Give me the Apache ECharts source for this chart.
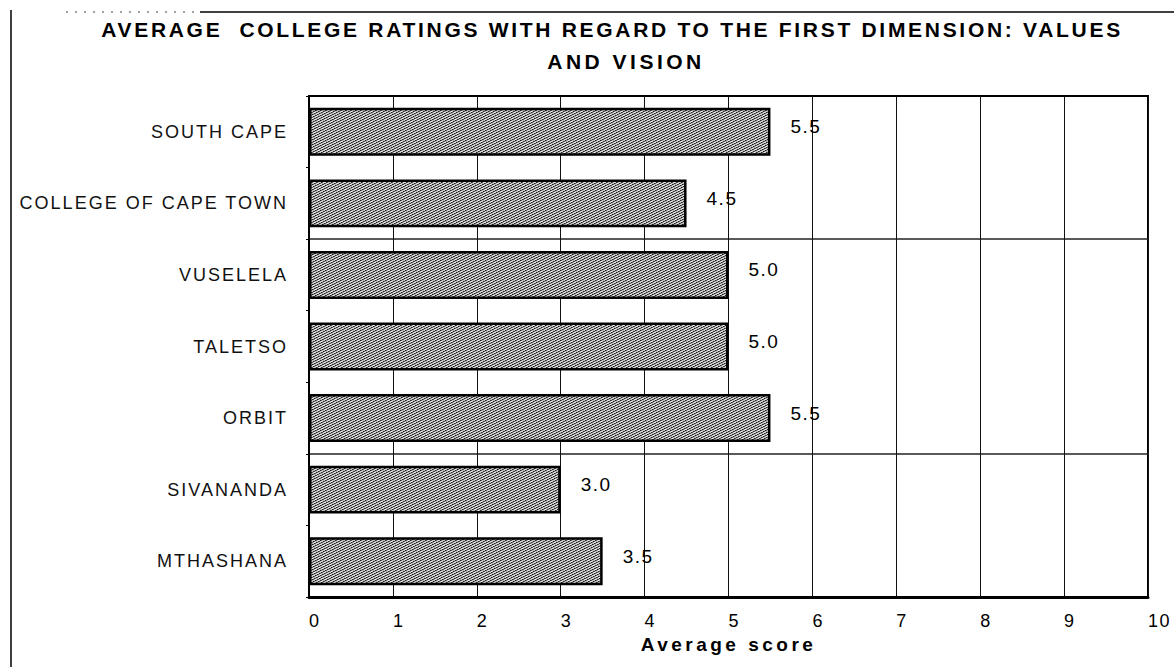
<!DOCTYPE html>
<html>
<head>
<meta charset="utf-8">
<script src="https://cdn.jsdelivr.net/npm/echarts@6/dist/echarts.min.js"></script>
<style>
  html, body { margin: 0; padding: 0; background: #fff; }
  #chart { width: 1174px; height: 667px; }
  #chart text { letter-spacing: 2px; white-space: pre; }
</style>
</head>
<body>
<div id="chart"></div>
<script>
// Colleges, top to bottom, and their average rating for "Values and vision"
const colleges = ['SOUTH CAPE', 'COLLEGE OF CAPE TOWN', 'VUSELELA', 'TALETSO', 'ORBIT', 'SIVANANDA', 'MTHASHANA'];
const scores = [5.5, 4.5, 5.0, 5.0, 5.5, 3.0, 3.5];
const titleLines = ['AVERAGE  COLLEGE RATINGS WITH REGARD TO THE FIRST DIMENSION: VALUES', 'AND VISION'];
const axisTitle = 'Average score';
// category boundaries that carry a horizontal rule
const ruledBoundaries = [2, 5];

const FONT = '"Liberation Sans", Arial, Helvetica, sans-serif';

// small printed-halftone tile used as the bar fill
const tile = document.createElement('canvas');
tile.width = 10; tile.height = 10;
const g = tile.getContext('2d');
g.fillStyle = '#c0c0c0';
g.fillRect(0, 0, 10, 10);
for (let y = 0; y < 10; y++) {
  for (let x = 0; x < 10; x++) {
    const k = (x + 2 * y) % 5;
    if (k === 0) { g.fillStyle = '#222'; g.fillRect(x, y, 1, 1); }
    else if (k === 1) { g.fillStyle = '#585858'; g.fillRect(x, y, 1, 1); }
    else if (k === 3 && (x + y) % 2 === 0) { g.fillStyle = '#f2f2f2'; g.fillRect(x, y, 1, 1); }
  }
}

const chart = echarts.init(document.getElementById('chart'), null, { renderer: 'svg' });

chart.setOption({
  animation: false,
  backgroundColor: '#fff',
  textStyle: { fontFamily: FONT },
  grid: {
    left: 309, right: 26, top: 96, bottom: 70,
    show: true, borderColor: '#000', borderWidth: 2
  },
  xAxis: {
    type: 'value', min: 0, max: 10, interval: 1,
    name: axisTitle, nameLocation: 'middle', nameGap: 37,
    nameTextStyle: { fontSize: 19, fontWeight: 'bold', color: '#000', fontFamily: FONT },
    axisLine: { show: true, lineStyle: { color: '#000', width: 3 } },
    axisTick: { show: false },
    axisLabel: { fontSize: 18, color: '#000', align: 'left', margin: 15, fontFamily: FONT },
    splitLine: { show: true, lineStyle: { color: '#111', width: 1 } }
  },
  yAxis: {
    type: 'category', data: colleges, inverse: true,
    axisLine: { show: true, lineStyle: { color: '#000', width: 2 } },
    axisTick: { show: true, length: 3, lineStyle: { color: '#000', width: 1 } },
    axisLabel: { fontSize: 18, color: '#111', margin: 21, fontFamily: FONT },
    splitLine: {
      show: true,
      interval: (idx) => ruledBoundaries.indexOf(idx) >= 0,
      lineStyle: { color: '#222', width: 1.5 }
    }
  },
  series: [{
    type: 'bar',
    data: scores,
    silent: true,
    barCategoryGap: '33%',
    itemStyle: {
      color: { image: tile, repeat: 'repeat' },
      borderColor: '#000', borderWidth: 2.5
    },
    label: {
      show: true, position: 'right', distance: 20, offset: [0, -5],
      fontSize: 19, color: '#000', fontFamily: FONT,
      formatter: (p) => p.value.toFixed(1)
    }
  }],
  graphic: [
    { type: 'line', silent: true, shape: { x1: 200, y1: 12, x2: 1174, y2: 12 }, style: { stroke: '#000', lineWidth: 1.5 } },
    { type: 'line', silent: true, shape: { x1: 66, y1: 12, x2: 198, y2: 12 }, style: { stroke: '#444', lineWidth: 1, lineDash: [2, 7] } },
    { type: 'line', silent: true, shape: { x1: 11, y1: 10, x2: 11, y2: 667 }, style: { stroke: '#000', lineWidth: 1.5 } },
    { type: 'text', silent: true, x: 612, y: 29,
      style: { text: titleLines[0], font: 'bold 21px ' + FONT, fill: '#000', textAlign: 'center', textVerticalAlign: 'middle' } },
    { type: 'text', silent: true, x: 626, y: 61,
      style: { text: titleLines[1], font: 'bold 21px ' + FONT, fill: '#000', textAlign: 'center', textVerticalAlign: 'middle' } }
  ]
});

// per-text tracking: titles and category names are set wide
function applyTracking() {
  const spacing = {};
  spacing[titleLines[0]] = '2.7px';
  spacing[titleLines[1]] = '3.5px';
  colleges.forEach(c => { spacing[c] = '2px'; });
  spacing[axisTitle] = '3.5px';
  document.querySelectorAll('#chart text').forEach(el => {
    const t = el.textContent;
    el.style.letterSpacing = spacing[t] || '1.5px';
  });
}
chart.on('finished', applyTracking);
applyTracking();
</script>
</body>
</html>
